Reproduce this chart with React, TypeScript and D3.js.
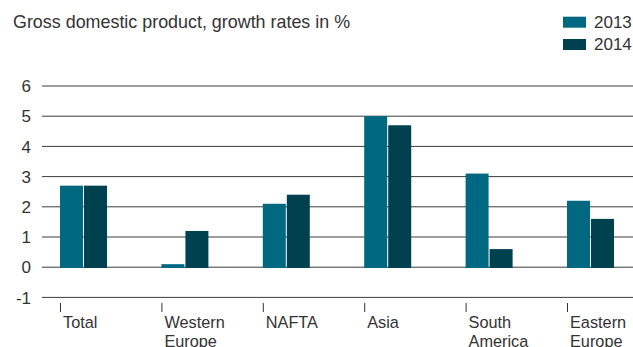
import React from "react";
import * as d3 from "d3";

const categories: string[][] = [
  ["Total"],
  ["Western", "Europe"],
  ["NAFTA"],
  ["Asia"],
  ["South", "America"],
  ["Eastern", "Europe"],
];
const seriesNames = ["2013", "2014"];
const values2013 = [2.7, 0.1, 2.1, 5.0, 3.1, 2.2];
const values2014 = [2.7, 1.2, 2.4, 4.7, 0.6, 1.6];
const yTicks = [-1, 0, 1, 2, 3, 4, 5, 6];
const colors = ["#006880", "#00414f"];
const title = "Gross domestic product, growth rates in %";

const W = 633;
const H = 347;
const FONT = "'Liberation Sans', Arial, sans-serif";

export default function App() {
  const keys = categories.map((c) => c.join(" "));
  const x = d3.scaleBand<string>().domain(keys).range([60, 60 + 101.4 * 6]).padding(0);
  const inner = d3.scaleBand<string>().domain(seriesNames).range([0, 47]).paddingInner(0.043);
  const y = d3.scaleLinear().domain([-1, 6]).range([297.4, 86]);
  const series = [values2013, values2014];

  return (
    <svg
      width={W}
      height={H}
      style={{ position: "fixed", left: 0, top: 0, display: "block", background: "#fff" }}
      fontFamily={FONT}
    >
      <text x={13} y={28} fontSize={17.9} fill="#333">
        {title}
      </text>
      {seriesNames.map((s, i) => (
        <g key={s}>
          <rect x={563} y={16.7 + i * 22.3} width={23} height={11} fill={colors[i]} />
          <text x={594} y={28.3 + i * 21.3} fontSize={17} fill="#333">
            {s}
          </text>
        </g>
      ))}
      {yTicks.map((t) => (
        <g key={t}>
          <line x1={42} x2={W} y1={y(t)} y2={y(t)} stroke="#3c3c3c" strokeWidth={1} />
          <text x={31} y={y(t)} dy="0.36em" textAnchor="end" fontSize={17} fill="#333">
            {t}
          </text>
        </g>
      ))}
      {keys.map((k, ci) => (
        <g key={k} transform={`translate(${x(k)},0)`}>
          {series.map((vals, si) => {
            const v = vals[ci];
            const y0 = y(0);
            const y1 = y(v);
            return (
              <rect
                key={si}
                x={inner(seriesNames[si])}
                y={Math.min(y0, y1)}
                width={inner.bandwidth()}
                height={Math.abs(y1 - y0) + 0.8}
                fill={colors[si]}
              />
            );
          })}
          <line x1={0.5} x2={0.5} y1={303} y2={312} stroke="#333" strokeWidth={1} />
          {categories[ci].map((line, li) => (
            <text key={li} x={3} y={327.7 + li * 19} fontSize={16.3} fill="#333">
              {line}
            </text>
          ))}
        </g>
      ))}
    </svg>
  );
}
